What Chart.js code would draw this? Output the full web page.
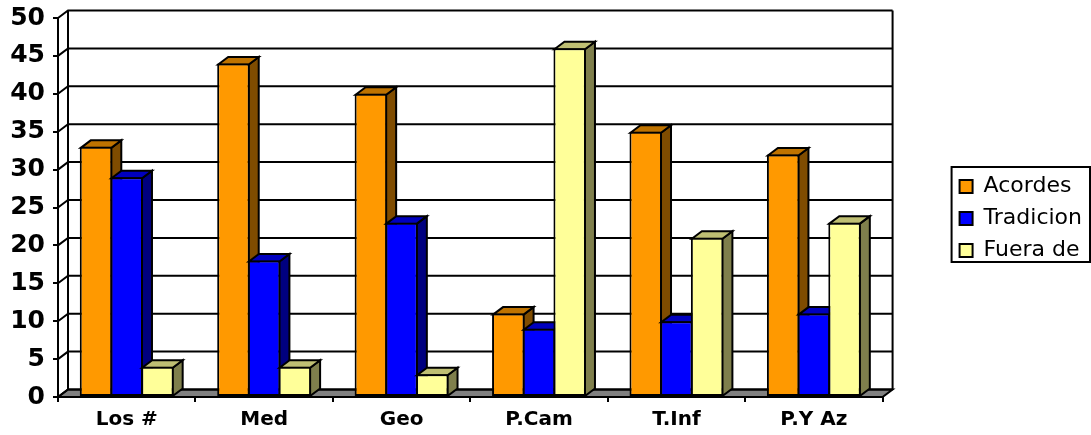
<!DOCTYPE html>
<html>
<head>
<meta charset="utf-8">
<style>
body { margin: 0; background: #fff; }
canvas { display: block; }
</style>
<script src="https://cdn.jsdelivr.net/npm/chart.js@4/dist/chart.umd.min.js"></script>
</head>
<body>
<canvas id="chart" width="1091" height="435"></canvas>
<script>
// Datos
const categorias = ["Los #", "Med", "Geo", "P.Cam", "T.Inf", "P.Y Az"];
const acordes = [33, 44, 40, 11, 35, 32];
const tradicion = [29, 18, 23, 9, 10, 11];
const fueraDe = [4, 4, 3, 46, 21, 23];

// Profundidad del efecto 3D
const depthX = 10;
const depthY = 7.5;
const lineW = 2;

function poly(ctx, pts, fill) {
    ctx.beginPath();
    pts.forEach((p, i) => i ? ctx.lineTo(p[0], p[1]) : ctx.moveTo(p[0], p[1]));
    ctx.closePath();
    if (fill) {
        ctx.fillStyle = fill;
        ctx.fill();
    }
    ctx.stroke();
}

const walls3d = {
    id: "walls3d",
    // mover la leyenda a la derecha, como en el original
    afterLayout(chart) {
        const lg = chart.legend;
        lg.left += 67;
        lg.right += 67;
        lg.top -= 8;
        lg.bottom -= 8;
    },
    // suelo y paredes del fondo
    beforeDraw(chart) {
        const { ctx, chartArea: a, scales } = chart;
        ctx.save();
        ctx.strokeStyle = "#000";
        ctx.lineWidth = lineW;
        poly(ctx, [[a.left, a.bottom], [a.right, a.bottom], [a.right + depthX, a.bottom - depthY], [a.left + depthX, a.bottom - depthY]], "#808080");
        scales.y.ticks.forEach(t => {
            const y = scales.y.getPixelForValue(t.value);
            ctx.beginPath();
            ctx.moveTo(a.left, y);
            ctx.lineTo(a.left + depthX, y - depthY);
            ctx.lineTo(a.right + depthX, y - depthY);
            ctx.stroke();
        });
        ctx.beginPath();
        ctx.moveTo(a.left + depthX, a.top - depthY);
        ctx.lineTo(a.left + depthX, a.bottom - depthY);
        ctx.moveTo(a.right + depthX, a.top - depthY);
        ctx.lineTo(a.right + depthX, a.bottom - depthY);
        ctx.stroke();
        ctx.restore();
    },
    // barras con cara lateral y superior, de izquierda a derecha
    beforeDatasetsDraw(chart) {
        const ctx = chart.ctx;
        ctx.save();
        ctx.strokeStyle = "#000";
        ctx.lineWidth = lineW;
        chart.data.datasets.forEach((ds, i) => {
            chart.getDatasetMeta(i).data.forEach(bar => {
                const l = bar.x - bar.width / 2 + 1;
                const r = bar.x + bar.width / 2 - 1;
                const t = bar.y + 1;
                poly(ctx, [[r, t], [r + depthX, t - depthY], [r + depthX, bar.base - depthY], [r, bar.base]], ds.sideColor);
                poly(ctx, [[l, t], [l + depthX, t - depthY], [r + depthX, t - depthY], [r, t]], ds.topColor);
                bar.draw(ctx);
            });
        });
        ctx.restore();
        return false;
    },
    // marco de la leyenda
    afterDraw(chart) {
        const { ctx, legend: lg } = chart;
        const h = lg.columnSizes[0].height - 1;
        const mid = (lg.top + lg.bottom) / 2 - 4;
        ctx.save();
        ctx.strokeStyle = "#000";
        ctx.lineWidth = lineW;
        ctx.strokeRect(lg.left + 2, mid - h / 2, lg.width - 4, h);
        ctx.restore();
    }
};

new Chart(document.getElementById("chart"), {
    type: "bar",
    data: {
        labels: categorias,
        datasets: [
            { label: "Acordes", data: acordes, backgroundColor: "#FF9900", sideColor: "#7F4C00", topColor: "#BF7300" },
            { label: "Tradicion", data: tradicion, backgroundColor: "#0000FF", sideColor: "#00007F", topColor: "#0000BF" },
            { label: "Fuera de", data: fueraDe, backgroundColor: "#FFFF99", sideColor: "#7F7F4C", topColor: "#BFBF73" }
        ]
    },
    options: {
        responsive: false,
        animation: false,
        events: [],
        categoryPercentage: 0.67,
        barPercentage: 1.06,
        layout: { padding: { top: 18, left: 0, right: 66, bottom: 0 } },
        elements: { bar: { borderColor: "#000", borderWidth: lineW, borderSkipped: false, inflateAmount: 0 } },
        scales: {
            x: {
                afterFit(scale) { scale.height = 38; },
                grid: { drawOnChartArea: false, color: "#000", lineWidth: lineW, tickLength: 5 },
                border: { color: "#000", width: lineW },
                ticks: { color: "#000", padding: 6, maxRotation: 0, font: { family: "DejaVu Sans", size: 20, weight: "bold" } }
            },
            y: {
                min: 0,
                max: 50,
                afterFit(scale) {
                    scale.width = 58;
                    scale.paddingTop = 0;
                    scale.paddingBottom = 0;
                },
                grid: { drawOnChartArea: false, color: "#000", lineWidth: lineW, tickLength: 5 },
                border: { color: "#000", width: lineW },
                ticks: { stepSize: 5, color: "#000", padding: 8, font: { family: "DejaVu Sans", size: 25, weight: "bold" } }
            }
        },
        plugins: {
            tooltip: { enabled: false },
            legend: {
                position: "right",
                labels: {
                    color: "#000",
                    boxWidth: 13,
                    boxHeight: 13,
                    padding: 10,
                    font: { family: "DejaVu Sans", size: 22 }
                }
            }
        }
    },
    plugins: [walls3d]
});
</script>
</body>
</html>
